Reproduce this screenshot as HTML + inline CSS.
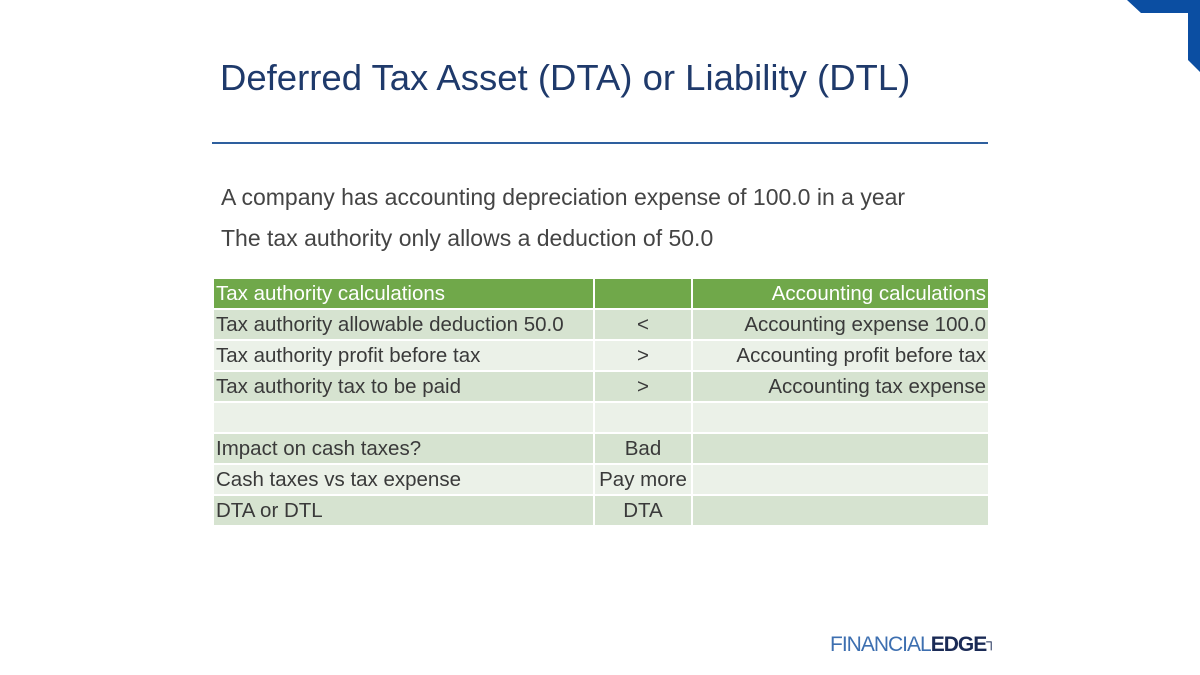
<!DOCTYPE html>
<html><head><meta charset="utf-8"><style>
body{margin:0;width:1200px;height:675px;background:#fff;position:relative;overflow:hidden;font-family:"Liberation Sans",sans-serif;}
.t{position:absolute;white-space:nowrap;}
table{position:absolute;left:212px;top:277px;border-collapse:collapse;width:776px;font-size:20.5px;color:#3a3a3a;table-layout:fixed;}
td{border:2px solid #fff;height:29px;padding:0 2px;line-height:29px;overflow:hidden;white-space:nowrap;}
tr.h td{background:#70a84a;color:#fff;}
tr.d td{background:#d6e3d0;}
tr.l td{background:#ebf1e8;}
td.c{text-align:center;} td.r{text-align:right;}
</style></head><body>
<svg class="t" style="left:0;top:0" width="1200" height="675"><polygon points="1127,0 1200,0 1200,72 1188,60 1188,13 1141,13" fill="#0b4ea2"/></svg>
<div class="t" style="left:220px;top:57px;font-size:36.5px;color:#1f3a6b;">Deferred Tax Asset (DTA) or Liability (DTL)</div>
<div class="t" style="left:212px;top:142px;width:776px;height:2px;background:#2e5f9e;"></div>
<div class="t" style="left:221px;top:184px;font-size:23px;color:#444;">A company has accounting depreciation expense of 100.0 in a year</div>
<div class="t" style="left:221px;top:225px;font-size:23px;color:#444;">The tax authority only allows a deduction of 50.0</div>
<table>
<colgroup><col style="width:381px"><col style="width:98px"><col style="width:297px"></colgroup>
<tr class="h"><td>Tax authority calculations</td><td></td><td class="r">Accounting calculations</td></tr>
<tr class="d"><td>Tax authority allowable deduction 50.0</td><td class="c">&lt;</td><td class="r">Accounting expense 100.0</td></tr>
<tr class="l"><td>Tax authority profit before tax</td><td class="c">&gt;</td><td class="r">Accounting profit before tax</td></tr>
<tr class="d"><td>Tax authority tax to be paid</td><td class="c">&gt;</td><td class="r">Accounting tax expense</td></tr>
<tr class="l"><td></td><td></td><td></td></tr>
<tr class="d"><td>Impact on cash taxes?</td><td class="c">Bad</td><td></td></tr>
<tr class="l"><td>Cash taxes vs tax expense</td><td class="c">Pay more</td><td></td></tr>
<tr class="d"><td>DTA or DTL</td><td class="c">DTA</td><td></td></tr>
</table>
<div class="t" style="left:830px;top:633px;font-size:21px;letter-spacing:-1px;"><span style="color:#3d6fb0;">FINANCIAL</span><span style="color:#1a2a55;font-weight:bold;">EDGE</span><span style="color:#1a2a55;font-size:14px;vertical-align:top;">&#x2510;</span></div>
</body></html>
